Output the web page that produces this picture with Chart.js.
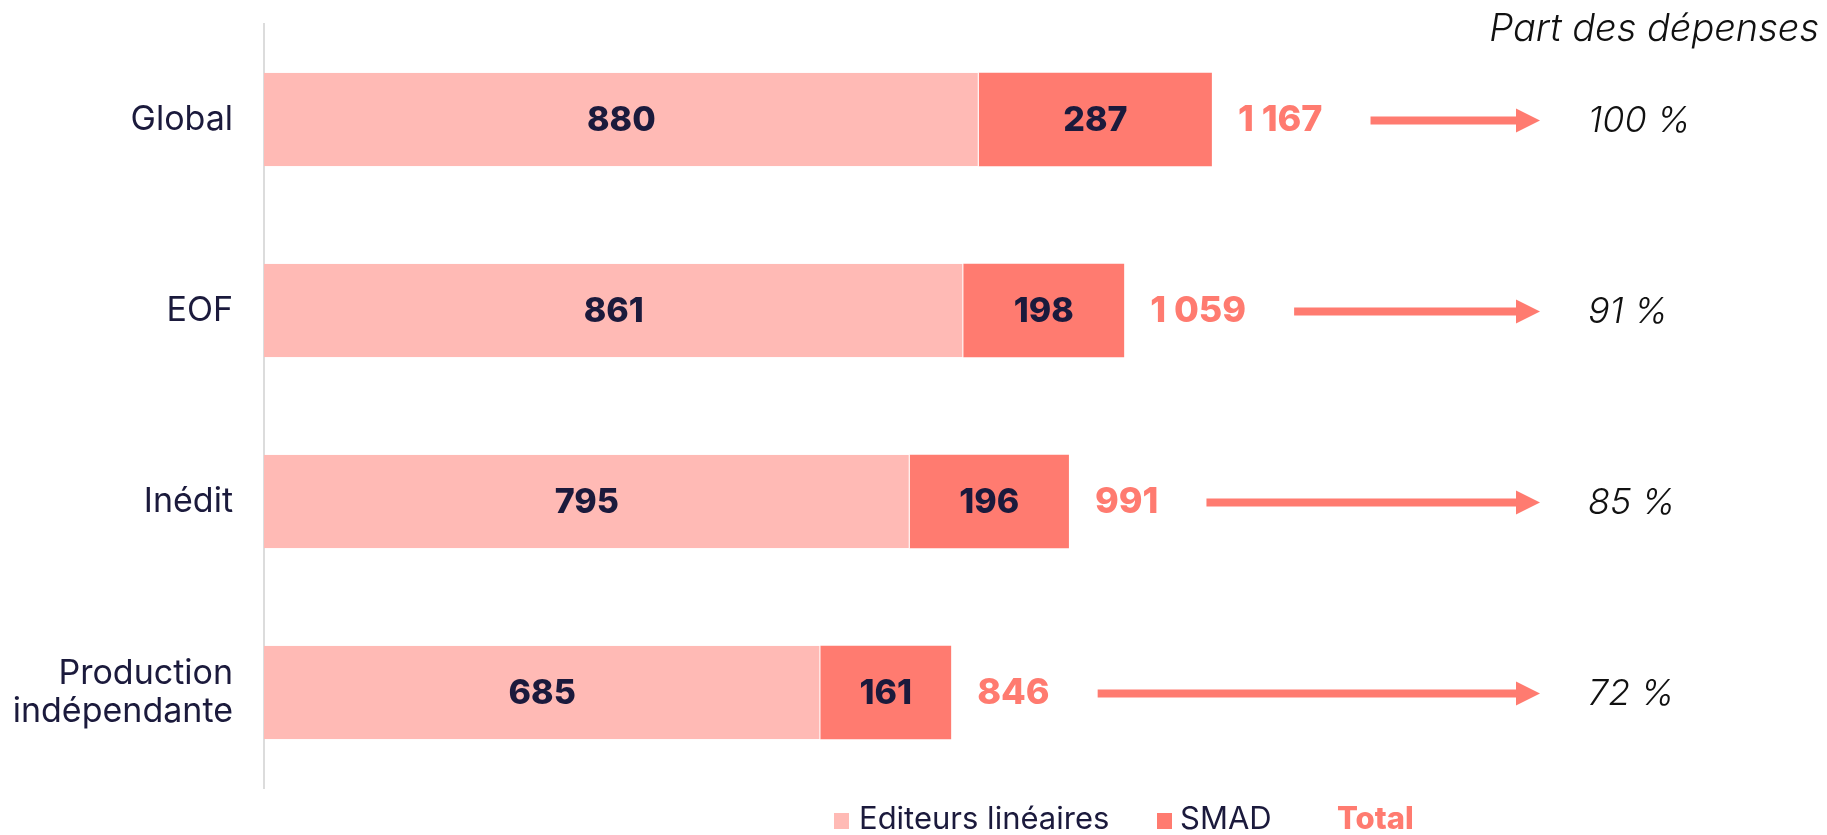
<!DOCTYPE html>
<html lang="fr">
<head>
  <meta charset="UTF-8">
  <title>Part des dépenses</title>
  <script src="https://cdn.jsdelivr.net/npm/chart.js"></script>
  <style>
    * {
      margin: 0;
      padding: 0;
      box-sizing: border-box;
    }

    body {
      background: #ffffff;
      width: 1827px;
      height: 835px;
      overflow: hidden;
    }

    .chart-container {
      position: relative;
      width: 1827px;
      height: 835px;
    }
  </style>
</head>
<body>
  <div class="chart-container">
    <canvas id="depensesChart" width="1827" height="835"></canvas>
  </div>

  <script>
    // Data
    const categories = ['Global', 'EOF', 'Inédit', ['Production', 'indépendante']];
    const editeursLineaires = [880, 861, 795, 685];
    const smad = [287, 198, 196, 161];
    const totals = [1167, 1059, 991, 846];
    const parts = ['100 %', '91 %', '85 %', '72 %'];
    const seriesLabels = ['Editeurs linéaires', 'SMAD', 'Total'];
    const partTitle = 'Part des dépenses';

    const navy = '#1b1a3c';
    const pink = '#ffbab5';
    const salmon = '#ff7b70';
    const font = 'Inter, "Noto Sans", sans-serif';

    // 1167 -> "1 167"
    const fmt = n => String(n).replace(/\B(?=(\d{3})+(?!\d))/g, ' ');

    function drawArrow(ctx, x0, x1, y) {
      const shaft = 8, headH = 24, headL = 24;
      ctx.fillStyle = salmon;
      ctx.fillRect(x0, y - shaft / 2, x1 - headL - x0, shaft);
      ctx.beginPath();
      ctx.moveTo(x1 - headL, y - headH / 2);
      ctx.lineTo(x1, y);
      ctx.lineTo(x1 - headL, y + headH / 2);
      ctx.closePath();
      ctx.fill();
    }

    // labels, totals, arrows, percentages, title and legend
    const annotations = {
      id: 'annotations',
      afterDatasetsDraw(chart) {
        const ctx = chart.ctx;
        const metas = [chart.getDatasetMeta(0), chart.getDatasetMeta(1)];
        ctx.save();

        // values inside the bars
        ctx.textBaseline = 'middle';
        ctx.textAlign = 'center';
        ctx.fillStyle = navy;
        ctx.font = '800 34px ' + font;
        metas.forEach((meta, d) => {
          meta.data.forEach((bar, i) => {
            const v = chart.data.datasets[d].data[i];
            ctx.fillText(String(v), (bar.x + bar.base) / 2, bar.y + 1);
          });
        });

        // totals, arrows, shares
        metas[1].data.forEach((bar, i) => {
          ctx.textAlign = 'left';
          ctx.font = '800 36px ' + font;
          ctx.fillStyle = salmon;
          const t = fmt(totals[i]);
          const x = bar.x + 26;
          ctx.fillText(t, x, bar.y + 1);
          const ax = x + ctx.measureText(t).width + 48;
          drawArrow(ctx, ax, 1540, bar.y + 1);

          ctx.font = 'italic 300 36px ' + font;
          ctx.fillStyle = '#111111';
          ctx.fillText(parts[i], 1588, bar.y + 2);
        });

        // column title
        ctx.textBaseline = 'alphabetic';
        ctx.textAlign = 'right';
        ctx.font = 'italic 300 38px ' + font;
        ctx.fillStyle = '#111111';
        ctx.fillText(partTitle, 1819, 41);

        // legend
        const ly = 829;
        ctx.textAlign = 'left';
        ctx.font = '31px ' + font;
        ctx.fillStyle = pink;
        ctx.fillRect(834, ly - 16, 15, 16);
        ctx.fillStyle = navy;
        ctx.fillText(seriesLabels[0], 859, ly);
        ctx.fillStyle = salmon;
        ctx.fillRect(1157, ly - 16, 15, 16);
        ctx.fillStyle = navy;
        ctx.fillText(seriesLabels[1], 1180, ly);
        ctx.font = '800 31px ' + font;
        ctx.fillStyle = salmon;
        ctx.fillText(seriesLabels[2], 1337, ly);

        ctx.restore();
      }
    };

    new Chart(document.getElementById('depensesChart'), {
      type: 'bar',
      data: {
        labels: categories,
        datasets: [
          {
            label: seriesLabels[0],
            data: editeursLineaires,
            backgroundColor: pink,
            borderColor: '#ffffff',
            borderWidth: { right: 1 },
            borderSkipped: false
          },
          {
            label: seriesLabels[1],
            data: smad,
            backgroundColor: salmon
          }
        ]
      },
      options: {
        indexAxis: 'y',
        responsive: false,
        animation: false,
        barPercentage: 0.49,
        categoryPercentage: 1.0,
        layout: {
          padding: { top: 24, bottom: 47, left: 0, right: 10 }
        },
        plugins: {
          legend: { display: false },
          tooltip: { enabled: false }
        },
        scales: {
          x: {
            stacked: true,
            min: 0,
            max: 1912,
            display: false
          },
          y: {
            stacked: true,
            grid: { display: false, drawTicks: false },
            border: { display: true, color: '#dcdcdc', width: 2 },
            ticks: {
              color: navy,
              padding: 31,
              font: { family: font, size: 34, lineHeight: 1.12 }
            },
            afterFit(scale) {
              scale.width = 264;
              // tick padding should not eat vertical room
              scale.paddingTop = 0;
              scale.paddingBottom = 0;
            }
          }
        }
      },
      plugins: [annotations]
    });
  </script>
</body>
</html>
